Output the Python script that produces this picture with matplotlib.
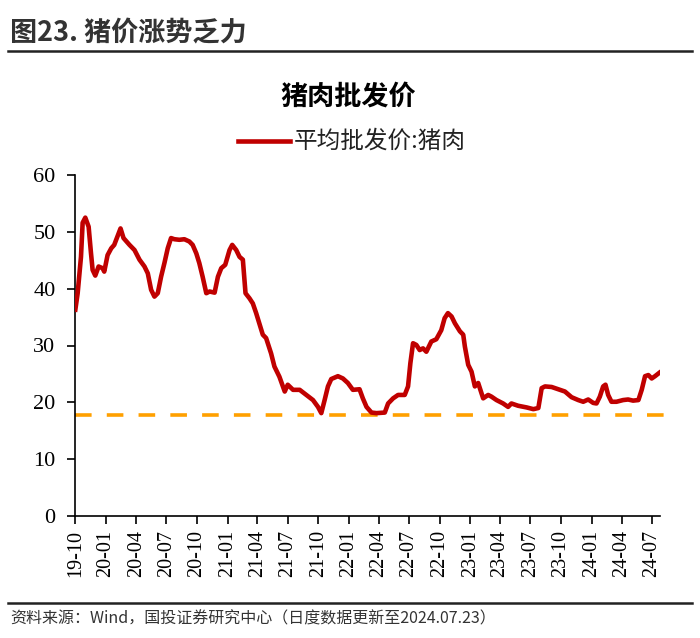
import matplotlib
matplotlib.use("Agg")
import matplotlib.pyplot as plt
import matplotlib.dates as mdates
import pandas as pd
from matplotlib.lines import Line2D

plt.rcParams['font.family'] = ['Noto Sans CJK SC', 'DejaVu Sans']

dates = [
    "2019-10-01", "2019-10-08", "2019-10-18", "2019-10-23", "2019-10-31", "2019-11-10", "2019-11-17",
    "2019-11-22", "2019-11-30", "2019-12-10", "2019-12-22", "2019-12-27",
    "2020-01-06", "2020-01-17", "2020-01-26", "2020-02-05", "2020-02-14", "2020-02-23", "2020-03-12",
    "2020-03-27", "2020-04-11", "2020-04-26", "2020-05-06", "2020-05-16", "2020-05-26", "2020-06-05",
    "2020-06-15", "2020-06-25", "2020-07-05", "2020-07-15", "2020-07-25", "2020-08-09", "2020-08-24",
    "2020-09-08", "2020-09-18", "2020-09-29", "2020-10-08", "2020-10-18", "2020-10-29", "2020-11-08",
    "2020-11-23", "2020-12-03", "2020-12-13", "2020-12-25",
    "2021-01-07", "2021-01-15", "2021-01-27", "2021-02-06", "2021-02-16", "2021-02-24", "2021-03-08",
    "2021-03-18", "2021-03-28", "2021-04-07", "2021-04-17", "2021-04-27", "2021-05-12", "2021-05-22",
    "2021-06-06", "2021-06-22", "2021-07-01", "2021-07-17", "2021-08-06", "2021-08-26", "2021-09-15",
    "2021-09-30", "2021-10-10", "2021-10-20", "2021-10-30", "2021-11-09", "2021-11-29", "2021-12-14",
    "2021-12-29",
    "2022-01-13", "2022-02-02", "2022-02-12", "2022-02-23", "2022-03-10", "2022-03-25", "2022-04-19",
    "2022-04-29", "2022-05-14", "2022-05-29", "2022-06-18", "2022-06-28", "2022-07-05", "2022-07-13",
    "2022-07-23", "2022-08-02", "2022-08-12", "2022-08-22", "2022-09-06", "2022-09-21", "2022-10-06",
    "2022-10-16", "2022-10-26", "2022-11-06", "2022-11-16", "2022-12-01", "2022-12-11", "2022-12-16",
    "2022-12-26",
    "2023-01-05", "2023-01-15", "2023-01-25", "2023-02-09", "2023-02-24", "2023-03-06", "2023-03-21",
    "2023-04-10", "2023-04-25", "2023-05-05", "2023-05-25", "2023-06-20", "2023-07-10", "2023-07-25",
    "2023-08-04", "2023-08-14", "2023-09-03", "2023-09-23", "2023-10-13", "2023-11-02", "2023-11-22",
    "2023-12-07", "2023-12-22",
    "2024-01-06", "2024-01-16", "2024-01-26", "2024-02-05", "2024-02-12", "2024-02-20", "2024-03-01",
    "2024-03-16", "2024-04-05", "2024-04-20", "2024-05-05", "2024-05-21", "2024-05-31", "2024-06-10",
    "2024-06-20", "2024-06-30", "2024-07-10", "2024-07-23",
]
pork_price = [
    36.3, 39.2, 45.6, 51.6, 52.5, 50.9, 46.3,
    43.3, 42.3, 43.9, 43.6, 43.0,
    45.9, 47.1, 47.7, 49.2, 50.6, 48.9, 47.7,
    46.8, 45.1, 43.9, 42.7, 39.8, 38.6, 39.2,
    42.1, 44.5, 47.1, 48.9, 48.7, 48.6, 48.7,
    48.3, 47.7, 46.2, 44.5, 42.1, 39.2, 39.5,
    39.3, 42.1, 43.6, 44.2,
    46.8, 47.7, 46.8, 45.6, 45.1, 39.2, 38.3,
    37.4, 35.7, 33.8, 31.9, 31.3, 28.6, 26.3,
    24.5, 21.9, 23.1, 22.2, 22.2, 21.3, 20.4,
    19.2, 18.1, 20.4, 22.8, 24.1, 24.6, 24.2,
    23.4,
    22.2, 22.3, 20.7, 19.2, 18.2, 18.1, 18.2,
    19.8, 20.7, 21.3, 21.3, 22.8, 26.9, 30.4,
    30.1, 29.2, 29.5, 28.9, 30.7, 31.1, 32.7,
    34.8, 35.7, 35.1, 33.9, 32.5, 31.9, 29.8,
    26.6,
    25.4, 22.8, 23.4, 20.7, 21.3, 21.0, 20.4,
    19.8, 19.2, 19.8, 19.4, 19.1, 18.8, 19.0,
    22.5, 22.8, 22.7, 22.3, 21.9, 20.9, 20.4,
    20.1, 20.5,
    19.9, 19.8, 21.0, 22.8, 23.1, 21.3, 20.1,
    20.1, 20.4, 20.5, 20.3, 20.4, 22.2, 24.6,
    24.8, 24.2, 24.6, 25.2,
]
reference_level = 17.8
tick_labels = ["19-10", "20-01", "20-04", "20-07", "20-10", "21-01", "21-04", "21-07", "21-10",
               "22-01", "22-04", "22-07", "22-10", "23-01", "23-04", "23-07", "23-10",
               "24-01", "24-04", "24-07"]
y_ticks = [0, 10, 20, 30, 40, 50, 60]

header = "图23. 猪价涨势乏力"
chart_title = "猪肉批发价"
series_name = "平均批发价:猪肉"
source = "资料来源：Wind，国投证券研究中心（日度数据更新至2024.07.23）"

x = pd.to_datetime(dates)
tick_dates = pd.to_datetime(["20" + t + "-01" for t in tick_labels])

fig = plt.figure(figsize=(7.0, 6.38), dpi=100)
ax = fig.add_axes([75 / 700, 1 - 516 / 638, (660 - 75) / 700, (516 - 175) / 638])

ax.plot(x, pork_price, color="#C00000", lw=3.3, solid_joinstyle="round", zorder=3)
ax.axhline(reference_level, xmin=0, xmax=1.022, color="#FFA000", lw=2.6,
           linestyle=(0, (4.6, 4.2)), clip_on=False, zorder=2)

ax.set_xlim(pd.Timestamp("2019-09-30"), pd.Timestamp("2024-07-25"))
ax.set_ylim(0, 60)
ax.set_yticks(y_ticks)
ax.set_xticks(tick_dates)
ax.set_xticklabels(tick_labels, rotation=90, fontfamily="Liberation Serif", fontsize=14.5)
ax.set_yticklabels([str(v) for v in y_ticks], fontfamily="Liberation Serif", fontsize=16)

for s in ["top", "right"]:
    ax.spines[s].set_visible(False)
for s in ["left", "bottom"]:
    ax.spines[s].set_linewidth(1.2)
    ax.spines[s].set_color("black")
ax.tick_params(axis="both", direction="out", length=6, width=1.2, colors="black")
ax.tick_params(axis="y", pad=8)
ax.tick_params(axis="x", pad=4)

# header and rules
fig.text(10 / 700, 1 - 33 / 638, header, fontsize=19.5, fontweight="bold", ha="left", va="center",
         color="#333333")
fig.add_artist(Line2D([8 / 700, 692 / 700], [1 - 51 / 638, 1 - 51 / 638], color="#222222", lw=1.8))
fig.add_artist(Line2D([8 / 700, 692 / 700], [1 - 603 / 638, 1 - 603 / 638], color="#222222", lw=1.8))

# chart title
fig.text(348 / 700, 1 - 97 / 638, chart_title, fontsize=19.5, fontweight="bold", ha="center",
         va="center", color="black")

# legend
fig.add_artist(Line2D([238 / 700, 290 / 700], [1 - 141 / 638, 1 - 141 / 638], color="#C00000", lw=3.3))
fig.text(294 / 700, 1 - 141 / 638, series_name, fontsize=17, ha="left", va="center", color="#222222")

# source
fig.text(10 / 700, 1 - 619 / 638, source, fontsize=11.5, ha="left", va="center", color="#333333",
         style="italic")

fig.savefig("out.png", dpi=100)
